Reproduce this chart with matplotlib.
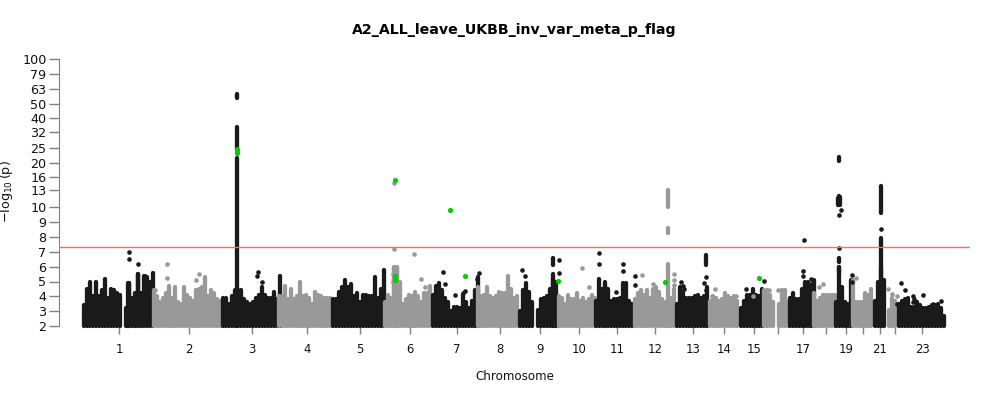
import numpy as np
import matplotlib
matplotlib.use("Agg")
import matplotlib.pyplot as plt

TITLE = "A2_ALL_leave_UKBB_inv_var_meta_p_flag"
nan = float("nan")
BLACK, GRAY, GREEN, RED = "#1a1a1a", "#999999", "#00cc00", "#f07070"

# chromosome start position, and skyline (top value) sampled every 3 position units
chrom_start = [84, 154, 223, 279, 333, 385, 433, 478, 520, 559, 596, 635, 677, 710, 741, 764, 790, 814, 836, 853, 875, 889, 899]
chrom_color = [BLACK, GRAY] * 11 + [BLACK]
sky = [
 [3.4,4.5,5.0,4.0,5.0,4.0,4.4,5.2,3.9,4.5,4.4,4.2,4.1,nan,3.2,4.9,3.9,4.2,5.5,4.2,5.4,5.3,5.0,5.6],
 [4.4,4.0,3.6,3.9,4.2,4.7,3.9,4.6,3.6,3.5,4.6,4.1,3.9,3.7,4.4,4.5,4.6,5.3,4.0,4.4,4.2,3.8,3.7],
 [3.9,3.9,3.5,4.0,4.4,4.4,4.4,3.8,3.6,3.5,3.6,3.9,4.1,4.6,4.1,3.9,3.9,4.3,3.8,5.4],
 [4.0,4.0,4.7,3.8,4.5,3.8,4.0,5.0,4.0,4.1,3.9,3.5,4.3,4.1,4.0,3.9,3.9,3.9],
 [3.8,3.8,4.3,4.6,5.1,4.6,4.8,4.0,4.2,3.6,4.1,4.1,4.0,4.0,5.3,3.9,4.5,5.8],
 [3.6,4.1,3.9,6.0,6.0,5.0,3.5,3.8,4.1,4.0,4.3,4.0,3.6,4.2,4.2,4.7],
 [4.1,4.7,4.9,4.4,3.9,3.6,3.0,3.3,3.3,3.2,4.1,3.6,3.2,3.7,4.4,5.3],
 [4.6,4.0,4.1,4.6,4.0,3.9,4.0,4.3,4.2,4.2,5.4,4.5,3.9,4.0],
 [3.0,4.4,4.9,4.3,3.6,nan,3.1,3.8,3.9,4.0,4.5,5.2,5.0],
 [4.0,3.9,3.5,4.1,3.8,3.8,4.2,3.7,3.9,3.6,3.8,4.1,3.9],
 [3.7,5.2,4.5,4.7,4.5,3.7,3.8,3.8,3.9,4.9,4.9,3.7,3.5],
 [3.8,4.2,4.4,4.1,4.4,3.9,4.5,4.6,4.3,3.8,3.6,3.7,3.9,4.5],
 [3.5,4.6,4.3,3.9,3.9,3.9,4.0,4.1,3.9,4.0,4.6],
 [3.7,4.0,3.9,3.7,3.8,4.2,4.0,3.9,4.0,3.7],
 [3.2,3.7,4.1,4.1,4.5,4.1,4.0,4.5],
 [4.4,4.4,4.1,3.6,nan,3.5,4.4,4.4,3.6],
 [3.9,4.2,3.8,3.8,4.5,5.0,5.0,4.6,5.1],
 [4.2,3.7,3.9,4.1,4.1,4.1,4.1,4.1],
 [3.6,6.0,4.6,3.6,3.5,5.1],
 [5.1,3.6,3.6,3.6,4.2,4.1,4.5],
 [3.7,5.0,5.9,5.1],
 [3.1,3.9,3.7],
 [3.5,3.7,3.8,3.9,3.3,3.3,3.6,3.4,3.2,3.2,3.3,3.4,3.4,3.5,3.2,2.7],
]

# towers: continuous runs of associated variants
black_tower_x = [237.3, 237.3, 237.3, 128, 129, 138, 553, 553, 839, 839, 838, 840, 839, 839, 881, 881, 706, 605]
black_tower_lo = [2, 24.5, 55, 2, 2, 2, 2, 6.1, 5.6, 10.3, 10.4, 10.4, 20.5, 6.3, 2, 9.6, 6.1, 2]
black_tower_hi = [21.5, 35, 58, 4.9, 4.9, 5.5, 5.5, 6.6, 6.0, 11.9, 11.6, 11.8, 22, 6.6, 7.9, 14, 6.8, 5]
gray_tower_x = [668, 668, 668, 394, 397]
gray_tower_lo = [2, 8.3, 10, 2, 2]
gray_tower_hi = [6.2, 8.6, 13, 5.9, 5.9]

# isolated points
black_hit_x = [129,129,138,145,258,257,262,443,445,455,463,465,479,477,522,525,558.7,558.7,599,599,623,623,635,635,616,
               706,704,706,681,683,684,746,747,764,804,803,803,811,811,851.5,851.5,839,839,841,881,901,
               905,913,914,916,923,933,941,897,913]
black_hit_y = [7.0,6.5,6.15,5.4,5.65,5.35,5.0,5.66,4.8,4.1,4.25,4.35,5.6,5.2,5.78,5.37,6.45,5.6,6.95,6.15,6.2,5.7,5.37,4.76,4.3,
               5.33,4.93,4.43,5.0,4.7,4.5,4.5,3.75,5.05,7.8,5.7,5.4,5.15,4.85,5.45,5.0,7.25,9.5,9.8,8.56,4.92,
               4.4,4.05,3.8,3.6,4.07,3.5,3.66,3.5,3.6]
gray_hit_x = [167,167,196,199,394,394,394,414,421,425,642,653,674,674,674,582,589,393,393,778,
              712,715,736,753,769,819,823,856,888,892,897,155]
gray_hit_y = [6.15,5.25,5.1,5.5,14.5,7.2,6.0,6.85,5.2,4.65,5.46,4.8,5.48,5.1,4.76,5.9,4.65,5.5,5.0,4.4,
              4.0,4.47,4.05,4.0,4.4,4.6,4.85,5.25,4.47,4.18,4.05,4.4]
green_x = [237.3,237.3,237.3,394.5,394.5,394.5,450,465,558,665,759]
green_y = [23.2,24,24.8,15.2,5.4,5.1,9.8,5.35,5.03,5.0,5.25]

y_ticks = [2,3,4,5,6,7,8,9,10,13,16,20,25,32,40,50,63,79,100]
x_ticks = [119,189,252,307,360,410,457,500,540,579,617,655,693,724,754,778,803,826,846,863,880,895,922]
x_labels = ["1","2","3","4","5","6","7","8","9","10","11","12","13","14","15","","17","","19","","21","","23"]
sig_line = 7.3

def fwd(v):
    v = np.asarray(v, dtype=float)
    return np.where(v <= 10, v, 10 + 10 * np.log10(np.maximum(v, 1e-9) / 10))
def inv(u):
    u = np.asarray(u, dtype=float)
    return np.where(u <= 10, u, 10 * 10 ** ((u - 10) / 10))

fig = plt.figure(figsize=(10, 4), dpi=100)
ax = fig.add_axes([59/1000, 1-326/400, (970-59)/1000, (326-59)/400])
ax.set_yscale("function", functions=(fwd, inv))
ax.set_xlim(59, 970)
ax.set_ylim(2, 100)

LW = 3.1
def columns(x, lo, hi, c, z=2):
    ax.vlines(x, lo, hi, colors=c, linewidth=LW, capstyle="round", clip_on=False, zorder=z)

for s, vals, c in zip(chrom_start, sky, chrom_color):
    xs = s + 3 * np.arange(len(vals))
    v = np.array(vals)
    m = ~np.isnan(v)
    columns(xs[m], 2, v[m], c)
columns(black_tower_x, black_tower_lo, black_tower_hi, BLACK, 2.2)
columns(gray_tower_x, gray_tower_lo, gray_tower_hi, GRAY, 2.1)
ax.scatter(black_hit_x, black_hit_y, s=11, c=BLACK, linewidths=0, zorder=3, clip_on=False)
ax.scatter(gray_hit_x, gray_hit_y, s=11, c=GRAY, linewidths=0, zorder=3, clip_on=False)
ax.scatter(green_x, green_y, s=14, c=GREEN, linewidths=0, zorder=4, clip_on=False)
ax.axhline(sig_line, color=RED, linewidth=1, zorder=3.5)

for k in ("top", "right", "bottom"):
    ax.spines[k].set_visible(False)
ax.spines["left"].set_color("#808080")
ax.set_yticks(y_ticks)
ax.set_yticklabels([str(t) for t in y_ticks])
ax.yaxis.set_minor_locator(matplotlib.ticker.NullLocator())
ax.set_xticks(x_ticks)
ax.set_xticklabels(x_labels)
ax.tick_params(axis="y", length=7, width=1, color="#808080", labelsize=9.2, pad=2, labelcolor="#111111")
ax.tick_params(axis="x", length=6, width=1, color="#808080", labelsize=8.4, pad=6, labelcolor="#111111")

fig.text(0.5145, 1-30/400, TITLE, ha="center", va="center", fontsize=10.15, fontweight="bold")
fig.text(0.5145, 1-377/400, "Chromosome", ha="center", va="center", fontsize=8.6, color="#111111")
fig.text(0.007, 1-192/400, r"$-\log_{10}(\mathrm{p})$", rotation=90, ha="center", va="center", fontsize=9.2, color="#111111")

fig.savefig("out.png", dpi=100)
